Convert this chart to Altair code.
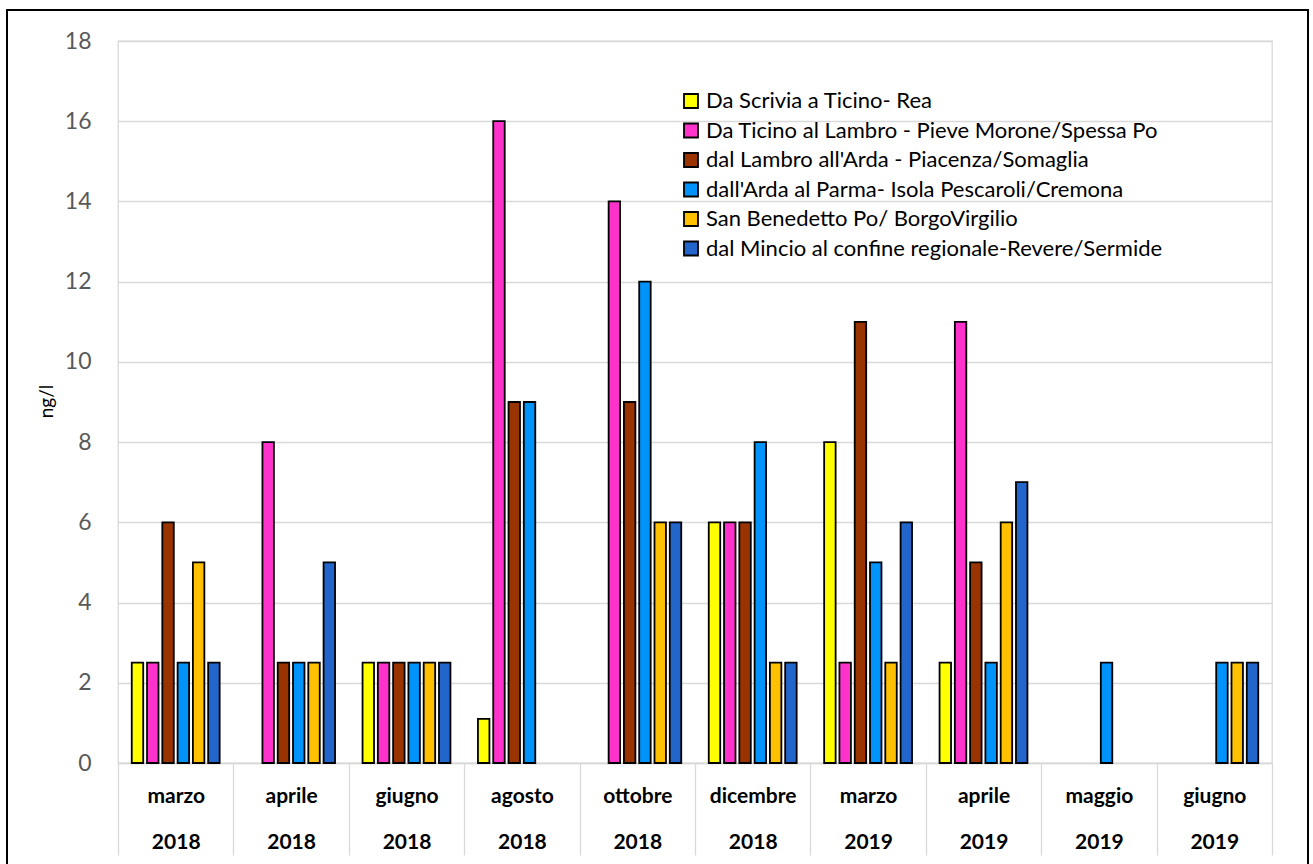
import altair as alt
import pandas as pd

# Sampling periods (month + year, shown on two label lines)
periodi = [
    "marzo 2018", "aprile 2018", "giugno 2018", "agosto 2018", "ottobre 2018",
    "dicembre 2018", "marzo 2019", "aprile 2019", "maggio 2019", "giugno 2019",
]

# River stretches (series) and their colours
serie = [
    "Da Scrivia a Ticino- Rea",
    "Da Ticino al Lambro - Pieve Morone/Spessa Po",
    "dal Lambro all'Arda - Piacenza/Somaglia",
    "dall'Arda al Parma- Isola Pescaroli/Cremona",
    "San Benedetto Po/ BorgoVirgilio",
    "dal Mincio al confine regionale-Revere/Sermide",
]
colori = ["#FFFF00", "#FF33CC", "#993300", "#0094FA", "#FFC000", "#2266CC"]

# Concentrations in ng/l (None = no sample)
scrivia = [2.5, None, 2.5, 1.1, None, 6, 8, 2.5, None, None]
ticino = [2.5, 8, 2.5, 16, 14, 6, 2.5, 11, None, None]
lambro = [6, 2.5, 2.5, 9, 9, 6, 11, 5, None, None]
arda = [2.5, 2.5, 2.5, 9, 12, 8, 5, 2.5, 2.5, 2.5]
san_benedetto = [5, 2.5, 2.5, None, 6, 2.5, 2.5, 6, None, 2.5]
mincio = [2.5, 5, 2.5, None, 6, 2.5, 6, 7, None, 2.5]

valori = [scrivia, ticino, lambro, arda, san_benedetto, mincio]
righe = []
for nome, serie_valori in zip(serie, valori):
    for periodo, v in zip(periodi, serie_valori):
        if v is not None:
            righe.append({"periodo": periodo, "serie": nome, "valore": v})
df = pd.DataFrame(righe)

GRID = "#D9D9D9"

bars = alt.Chart(df).mark_bar(stroke="black", strokeWidth=1.8).encode(
    x=alt.X(
        "periodo:N",
        sort=periodi,
        scale=alt.Scale(domain=periodi, paddingInner=0, paddingOuter=0),
        axis=alt.Axis(
            title=None,
            labelExpr="split(datum.label, ' ')",
            labelAngle=0,
            labelFont="Lato",
            labelFontSize=21,
            labelFontWeight="bold",
            labelColor="black",
            labelLineHeight=46,
            labelPadding=-70,
            ticks=True,
            tickBand="extent",
            tickSize=92,
            tickColor=GRID,
            tickWidth=1.3,
            domainColor=GRID,
            domainWidth=1.3,
            grid=False,
        ),
    ),
    xOffset=alt.XOffset(
        "serie:N",
        scale=alt.Scale(domain=serie, paddingInner=0.25, paddingOuter=0.9),
    ),
    y=alt.Y(
        "valore:Q",
        scale=alt.Scale(domain=[0, 18], nice=False),
        axis=alt.Axis(
            title="ng/l",
            values=list(range(0, 19, 2)),
            labelFont="Lato",
            labelFontSize=23,
            labelColor="#595959",
            labelPadding=27,
            ticks=False,
            domain=False,
            grid=True,
            gridColor=GRID,
            gridWidth=1.3,
            titleFont="Lato",
            titleFontSize=19,
            titleFontWeight="normal",
            titleColor="black",
            titleX=-72,
            titleY=360,
            titleAngle=270,
            titleAlign="center",
            titleBaseline="middle",
        ),
    ),
    color=alt.Color(
        "serie:N",
        title=None,
        scale=alt.Scale(domain=serie, range=colori),
        legend=alt.Legend(
            orient="none",
            legendX=562,
            legendY=49,
            padding=0,
            symbolType="square",
            symbolSize=196,
            symbolStrokeColor="black",
            symbolStrokeWidth=1.8,
            symbolOpacity=1,
            labelFont="Lato",
            labelFontSize=22,
            labelColor="black",
            labelOffset=4,
            labelLimit=700,
            rowPadding=7.5,
        ),
    ),
)

# Outer frame around the whole figure
frame = alt.Chart(alt.Data(values=[{}])).mark_rect(
    fillOpacity=0, stroke="black", strokeWidth=2
).encode(
    x=alt.value(-111),
    x2=alt.value(1190),
    y=alt.value(-31),
    y2=alt.value(845),
)

chart = (
    alt.layer(bars, frame)
    .properties(
        width=1154,
        height=722,
        autosize=alt.AutoSizeParams(type="none"),
        padding={"left": 118, "top": 41, "right": 41, "bottom": 101},
        background="white",
    )
    .configure_view(stroke=GRID, strokeWidth=1.3)
)

chart.save("out.html", embed_options={"renderer": "svg", "actions": False})
